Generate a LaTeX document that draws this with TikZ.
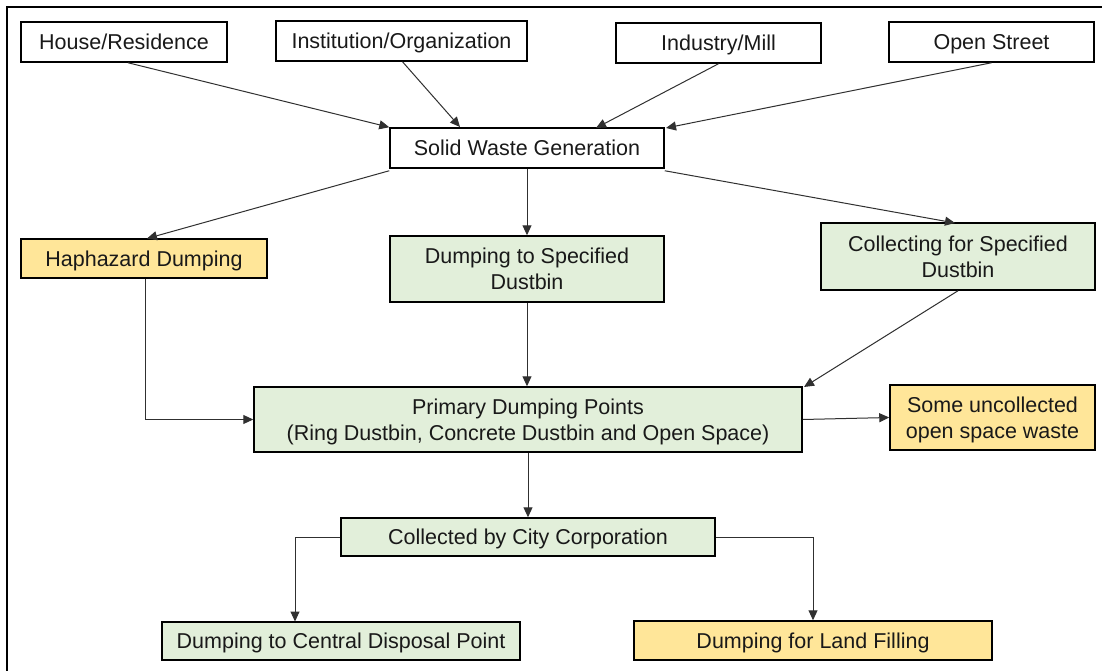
\documentclass[tikz,border=0pt]{standalone}
\usepackage{fontspec}
\setmainfont{Liberation Sans}
\usetikzlibrary{arrows.meta}
\definecolor{boxyellow}{HTML}{FFE699}
\definecolor{boxgreen}{HTML}{E2EFDA}
\definecolor{linegray}{HTML}{303030}
\begin{document}
\begin{tikzpicture}[x=1pt,y=-1pt,
  base/.style={draw=black, line width=1.5pt, inner sep=0pt, align=center,
    text height=16.5pt, text depth=1pt,
    font=\fontsize{21.5}{26}\selectfont, text=black!90},
  twoline/.style={text height=42.5pt, text depth=1pt},
  plainbox/.style={base, fill=white},
  ybox/.style={base, fill=boxyellow},
  gbox/.style={base, fill=boxgreen},
  conn/.style={draw=linegray, line width=1pt, -{Triangle[length=10pt,width=9pt]}}
]
\useasboundingbox (0,0) rectangle (1102,671);
\clip (0,0) rectangle (1102,671);
\fill[white] (0,0) rectangle (1102,671);
\draw[line width=1.5pt] (7,700) -- (7,7) -- (1120,7);

% top row
\node[plainbox, minimum width=206pt, minimum height=40pt] (house) at (124,42) {House/Residence};
\node[plainbox, minimum width=251pt, minimum height=40pt] (inst) at (401.5,41) {Institution/Organization};
\node[plainbox, minimum width=205pt, minimum height=40pt] (ind) at (718.5,43) {Industry/Mill};
\node[plainbox, minimum width=205pt, minimum height=40pt] (street) at (991.5,42) {Open Street};

\node[plainbox, minimum width=274pt, minimum height=40pt] (swg) at (527,148) {Solid Waste Generation};

\node[ybox, minimum width=246pt, minimum height=39pt] (hap) at (144,258.5) {Haphazard Dumping};
\node[gbox, twoline, minimum width=274pt, minimum height=66pt] (dsd) at (527,269) {Dumping to Specified\\Dustbin};
\node[gbox, twoline, minimum width=274pt, minimum height=67pt] (csd) at (958,256.5) {Collecting for Specified\\Dustbin};

\node[gbox, twoline, minimum width=548pt, minimum height=65pt] (pdp) at (528,419.5) {Primary Dumping Points\\(Ring Dustbin, Concrete Dustbin and Open Space)};
\node[ybox, twoline, minimum width=205pt, minimum height=65pt] (some) at (992.5,417.5) {Some uncollected\\open space waste};

\node[gbox, minimum width=374pt, minimum height=38pt] (city) at (528,537) {Collected by City Corporation};

\node[gbox, minimum width=358pt, minimum height=38pt] (central) at (341,641) {Dumping to Central Disposal Point};
\node[ybox, minimum width=358pt, minimum height=39pt] (land) at (813,640.5) {Dumping for Land Filling};

% connector end points
\coordinate (hapin) at (147,238.5);
\coordinate (cenin) at (295,621.5);
\coordinate (instin) at (460,127);

% connectors
\draw[conn] (house.south) ++(4,0) -- (swg.north west);
\draw[conn] (inst.south) ++(1,0) -- (instin);
\draw[conn] (ind.south) -- (596,128);
\draw[conn] (street.south) -- (666,128);

\draw[conn] (swg.south west) ++(0,2) -- (hapin);
\draw[conn] (swg.south) -- (dsd.north);
\draw[conn] (swg.south east) ++(0,2) -- (955,223);

\draw[conn] (dsd.south) -- (pdp.north -| dsd.south);
\draw[conn] (csd.south) -- (804,387);
\draw[conn] (hap.south) ++(1,0) |- (pdp.west);
\draw[conn] (pdp.east) -- (some.west);

\draw[conn] (pdp.south -| city.north) -- (city.north);
\draw[conn] (city.west) -| (cenin);
\draw[conn] (city.east) -| (land.north);
\end{tikzpicture}
\end{document}
